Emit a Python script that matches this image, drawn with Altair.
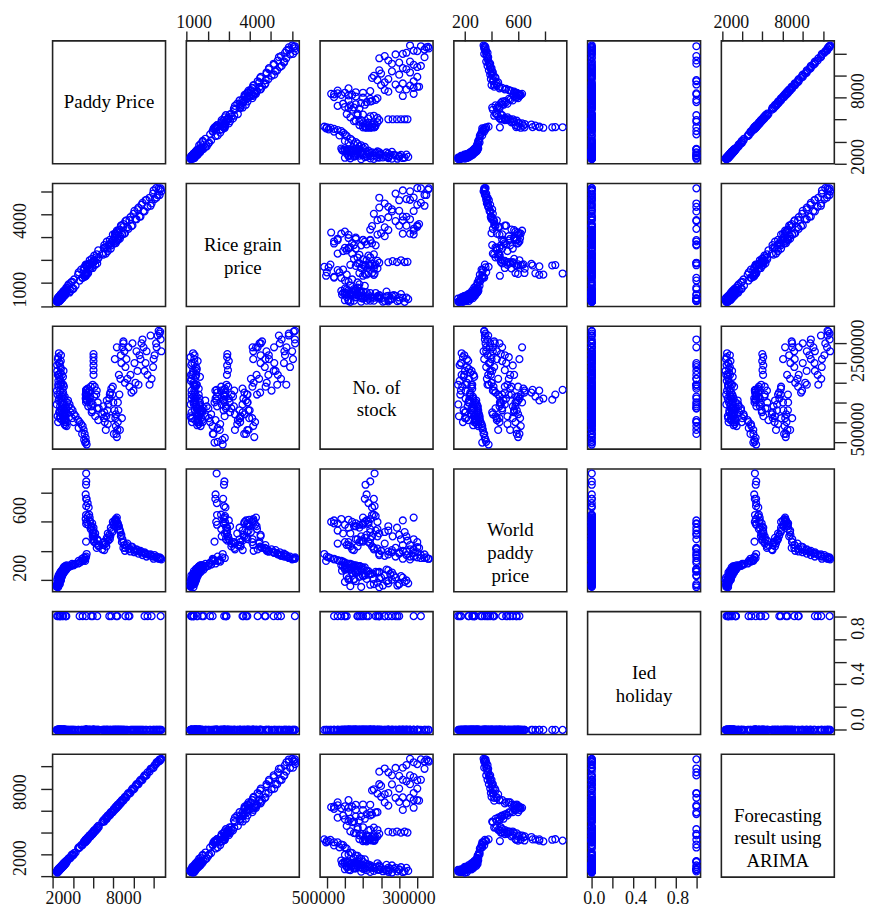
import altair as alt
import pandas as pd

# ---------------- data ----------------
paddy_price = [
    2380, 2450, 2520, 2480, 2420, 2530, 2600, 2580, 2550, 2620,
    2680, 2650, 2700, 2750, 2720, 2690, 2740, 2800, 2780, 2760,
    2820, 2880, 2850, 2900, 2950, 2920, 2980, 3020, 3000, 3050,
    3100, 3080, 3120, 3180, 3150, 3220, 3280, 3250, 3330, 3400,
    3500, 3650, 3800, 3950, 4100, 4250, 4500, 4650, 4800, 4950,
    5050, 5150, 5250, 5300, 5350,
    5290, 5300, 5290, 5310, 5300, 5290, 5300, 5310, 5250, 5350, 5450, 5550,
    5600, 5700, 5650, 5800, 5900, 5950, 6030, 6030, 6030, 6030,
    6030, 6030, 6150, 6300, 6450, 6550, 6900, 7050, 7150, 7300,
    7400, 7500, 7600, 7700, 7800, 7900, 8000, 8100, 8200,
    8250, 8300, 8350, 8400, 8450, 8500, 8600, 8700, 8800, 8900,
    9000, 9100, 9200, 9400, 9600, 9800, 10000, 10200, 10400, 10600,
    10800, 11000, 11200, 11400, 11600, 11800, 11950, 12100, 12250, 12400,
    12500, 12600, 12700, 12770,
    2400, 2430, 2460, 2490, 2510, 2540, 2560, 2590, 2610, 2640,
    2660, 2690, 2710, 2730, 2760, 2790, 2810, 2840, 2870, 2890,
    2920, 2960, 2990, 3010, 3040, 3070, 3090, 3110, 3140, 3170,
    3200, 3240, 3270, 3310, 3360,
    3550, 3750, 3900, 4050, 4550, 4900, 5100, 5200,
    5250, 5350, 5450, 5500, 5650, 5750, 5850, 5950, 6100, 6200,
    6350, 6400, 6500, 7000, 7100, 7250, 7350, 7450, 7650, 7750,
    7950, 8050,
    8150, 8250, 8350, 8450, 8550, 8650, 8750, 8850, 9000, 9150,
    9300, 9500, 9700, 9900, 10100, 10300, 10500, 10700, 10900, 11100,
    11300, 11700, 12000, 12300, 12650,
]

rice_grain_price = [
    1190, 1230, 1320, 1200, 1210, 1180, 1370, 1260, 1390, 1230,
    1380, 1220, 1450, 1320, 1360, 1220, 1440, 1370, 1520, 1300,
    1460, 1320, 1530, 1400, 1480, 1340, 1570, 1480, 1630, 1450,
    1600, 1440, 1670, 1550, 1590, 1500, 1730, 1600, 1800, 1630,
    1880, 1590, 2030, 1740, 2160, 1890, 2370, 2110, 2590, 2230,
    2570, 2270, 2810, 2470, 2710,
    2320, 2780, 2440, 2770, 2360, 2770, 2420, 2790, 2370, 2730, 2430, 2840,
    2630, 2820, 2800, 2870, 2750, 2890, 2910, 2960, 2920, 3000,
    2920, 2930, 2970, 3130, 3040, 3120, 3290, 3540, 3540, 3560,
    3510, 3650, 3690, 3740, 3650, 3860, 3890, 3990, 3970,
    4160, 3820, 4210, 3880, 4250, 3930, 4340, 4050, 4510, 4130,
    4460, 4160, 4710, 4440, 4750, 4490, 5030, 4800, 5220, 4900,
    5420, 5150, 5620, 5330, 5730, 5480, 5910, 5670, 6150, 5850,
    6140, 5850, 6140, 6010,
    1230, 1300, 1180, 1360, 1250, 1190, 1380, 1300, 1230, 1420,
    1350, 1250, 1450, 1380, 1270, 1480, 1420, 1320, 1530, 1450,
    1360, 1570, 1500, 1390, 1610, 1540, 1430, 1650, 1570, 1470,
    1690, 1610, 1510, 1740, 1660,
    1950, 1660, 2060, 1760, 2470, 2240, 2690, 2320,
    2770, 2400, 2820, 2440, 3000, 2640, 3060, 2660, 3200, 2800,
    3260, 2860, 3430, 3240, 3660, 3290, 3810, 3400, 3890, 3510,
    4120, 3730,
    4160, 3750, 4290, 3880, 4320, 3940, 4510, 4110, 4580, 4180,
    4740, 4370, 4880, 4520, 5160, 4790, 5300, 4910, 5510, 5130,
    5640, 5380, 6050, 5740, 6080,
]

no_of_stock = [
    1450000, 1700000, 1950000, 2200000, 2450000, 2650000, 2500000, 2200000, 1900000, 1600000,
    1300000, 1100000, 1250000, 1500000, 1800000, 2100000, 2400000, 2700000, 2550000, 2250000,
    1950000, 1650000, 1350000, 1050000, 1200000, 1450000, 1700000, 1950000, 2150000, 2300000,
    1600000, 1450000, 1300000, 1150000, 1000000, 920000, 1050000, 1200000, 1350000, 1500000,
    1550000, 1450000, 1350000, 1300000, 1200000, 1150000, 1050000, 1000000, 950000, 900000,
    800000, 700000, 600000, 500000, 430000,
    1500000, 1650000, 1750000, 1820000, 1800000, 1570000, 1820000, 1700000, 1600000, 1550000,
    1650000, 1750000,
    1800000, 1650000, 1500000, 1400000, 1300000, 1950000, 2200000, 2320000, 2440000, 2550000,
    2650000, 2730000, 1900000, 1700000, 1500000, 1350000, 1200000, 1100000, 1000000, 1150000,
    1300000, 1450000, 1600000, 1750000, 1850000, 1700000, 1500000, 1300000, 1100000,
    900000, 700000, 620000, 800000, 1000000, 1300000, 1700000, 2100000, 2500000, 2900000,
    3000000, 2800000, 2400000, 2100000, 1900000, 1750000, 1800000, 2000000, 2300000, 2700000,
    3000000, 2900000, 2500000, 2200000, 1950000, 2100000, 2400000, 2700000, 3000000, 3200000,
    3320000, 3250000, 3100000, 2800000,
    1800000, 2300000, 1150000, 2600000, 1000000, 2050000, 1550000, 2750000, 1250000, 2150000,
    1700000, 2500000, 1400000, 1950000, 1100000, 2350000, 1600000, 2000000, 1300000, 2200000,
    1500000, 1850000, 1150000, 1750000, 1350000, 1050000, 1900000, 1250000, 950000, 1650000,
    1100000, 1400000, 1000000, 1250000, 900000,
    1400000, 1250000, 1100000, 1000000, 850000, 700000, 550000, 480000,
    1700000, 1550000, 1850000, 1400000, 1600000, 1900000, 1250000, 1450000, 1650000, 1150000,
    1800000, 1350000, 1050000, 1400000, 1250000, 800000, 1550000, 950000, 1700000, 1100000,
    1900000, 700000,
    2600000, 1200000, 2900000, 1500000, 2200000, 800000, 2700000, 1100000, 3050000, 2000000,
    2600000, 2900000, 2200000, 3000000, 2500000, 2800000, 1950000, 2600000, 3100000, 2300000,
    2800000, 3200000, 2600000, 2900000, 3300000,
]

world_paddy_price = [
    150, 165, 148, 175, 160, 185, 170, 195, 180, 205,
    190, 210, 200, 225, 205, 230, 215, 195, 225, 240,
    210, 235, 250, 225, 245, 260, 240, 255, 270, 250,
    262, 275, 255, 268, 280, 262, 275, 285, 270, 280,
    285, 290, 295, 300, 305, 310, 312, 318, 325, 330,
    335, 340, 350, 360, 378,
    463, 586, 648, 709, 759, 857, 935, 880, 790, 760, 730, 700,
    650, 600, 630, 560, 590, 520, 540, 500, 560, 480,
    530, 470, 500, 450, 470, 430, 410, 440, 460, 430,
    480, 470, 510, 500, 540, 530, 580, 570, 615,
    620, 610, 600, 590, 580, 570, 550, 530, 510, 480,
    460, 440, 420, 450, 415, 430, 410, 400, 405, 395,
    390, 385, 380, 375, 370, 365, 360, 370, 355, 350,
    345, 355, 350, 340,
    170, 200, 155, 215, 185, 160, 230, 175, 205, 190,
    240, 170, 220, 250, 200, 230, 260, 215, 245, 265,
    230, 255, 275, 240, 265, 285, 250, 270, 290, 260,
    280, 295, 270, 290, 300,
    295, 300, 310, 300, 330, 345, 355, 330,
    620, 600, 640, 580, 610, 550, 570, 500, 460, 520,
    420, 480, 440, 460, 405, 450, 490, 520, 480, 560,
    600, 590,
    610, 600, 630, 590, 570, 540, 500, 460, 420, 400,
    440, 410, 395, 425, 390, 410, 380, 400, 370, 390,
    360, 375, 345, 360, 345,
]

ied_holiday = [
    0, 0, 1, 0, 1, 0, 0, 0, 0, 0,
    0, 0, 0, 1, 0, 1, 0, 0, 0, 0,
    0, 0, 0, 0, 0, 1, 0, 1, 0, 0,
    0, 0, 0, 0, 0, 0, 1, 0, 1, 0,
    0, 0, 0, 0, 0, 0, 0, 1, 0, 1,
    0, 0, 0, 0, 0, 0, 1, 0, 0, 0,
    0, 0, 0, 0, 0, 0, 0, 0, 0, 0,
    1, 0, 1, 0, 0, 0, 0, 0, 0, 0,
    0, 0, 0, 0, 0, 0, 0, 0, 0, 1,
    0, 1, 0, 0, 0, 0, 0, 1, 0, 1,
    0, 0, 0, 0, 0, 0, 0, 0, 1, 0,
    1, 0, 0, 0, 0, 0, 0, 0, 0, 1,
    0, 1, 0, 0, 0, 0, 0, 0, 1, 0,
    0, 0, 0, 0, 0, 0, 0, 0, 0, 0,
    0, 1, 0, 0, 0, 0, 0, 0, 0, 0,
    0, 0, 0, 0, 0, 0, 0, 0, 0, 0,
    0, 0, 1, 0, 0,
    0, 0, 0, 0, 0, 0, 0, 0,
    0, 0, 0, 0, 0, 0, 0, 0, 0, 0,
    0, 1, 0, 0, 0, 0, 0, 0, 0, 0,
    0, 0,
    0, 0, 0, 0, 0, 0, 0, 0, 0, 0,
    0, 1, 0, 0, 0, 0, 0, 0, 0, 1,
    0, 0, 0, 0, 0,
]

forecast_arima = [
    2430, 2410, 2600, 2420, 2450, 2460, 2640, 2560, 2610, 2570,
    2730, 2610, 2780, 2690, 2750, 2620, 2780, 2780, 2840, 2710,
    2870, 2840, 2930, 2840, 2980, 2850, 3020, 3000, 3060, 3000,
    3150, 3040, 3200, 3120, 3180, 3150, 3320, 3230, 3390, 3350,
    3550, 3610, 3880, 3890, 4130, 4180, 4540, 4630, 4860, 4900,
    5100, 5110, 5330, 5240, 5380,
    5220, 5340, 5270, 5370, 5250, 5340, 5260, 5390, 5190, 5380, 5380, 5590,
    5650, 5660, 5730, 5740, 5930, 5880, 6070, 6010, 6090, 5980,
    6080, 5990, 6230, 6240, 6480, 6480, 6940, 7030, 7210, 7250,
    7450, 7460, 7680, 7640, 7830, 7830, 8040, 8080, 8260,
    8200, 8350, 8310, 8480, 8390, 8530, 8530, 8740, 8780, 8960,
    8950, 9150, 9160, 9480, 9540, 9830, 9930, 10240, 10380, 10660,
    10750, 11050, 11160, 11480, 11540, 11830, 11880, 12140, 12230, 12460,
    12450, 12650, 12660, 12710,
    2500, 2350, 2580, 2400, 2650, 2470, 2700, 2500, 2720, 2560,
    2790, 2600, 2820, 2640, 2880, 2700, 2920, 2760, 2980, 2790,
    3040, 2860, 3100, 2900, 3160, 2960, 3200, 3000, 3250, 3080,
    3300, 3140, 3360, 3200, 3450,
    3650, 3680, 4000, 3960, 4650, 4820, 5200, 5100,
    5350, 5250, 5560, 5400, 5750, 5650, 5950, 5850, 6200, 6100,
    6450, 6300, 6600, 7100, 7000, 7350, 7250, 7550, 7550, 7850,
    7850, 8150,
    8050, 8350, 8250, 8550, 8450, 8750, 8650, 8950, 8900, 9250,
    9200, 9600, 9600, 10000, 10000, 10400, 10400, 10800, 10800, 11200,
    11200, 11800, 11900, 12400, 12550,
]

var_keys = ["paddy", "rice", "stock", "world", "ied", "forecast"]
diag_labels = [
    "Paddy Price",
    "Rice grain\nprice",
    "No. of\nstock",
    "World\npaddy\nprice",
    "Ied\nholiday",
    "Forecasting\nresult using\nARIMA",
]

tick_values = {
    "paddy": [2000, 4000, 6000, 8000, 10000, 12000],
    "rice": [1000, 2000, 3000, 4000, 5000, 6000],
    "stock": [500000, 1000000, 1500000, 2000000, 2500000, 3000000],
    "world": [200, 400, 600, 800],
    "ied": [0.0, 0.2, 0.4, 0.6, 0.8, 1.0],
    "forecast": [2000, 4000, 6000, 8000, 10000, 12000],
}

x_labels = {
    0: {2000: "2000", 8000: "8000"},
    1: {1000: "1000", 4000: "4000"},
    2: {500000: "500000", 3000000: "300000"},
    3: {200: "200", 600: "600"},
    4: {0.0: "0.0", 0.4: "0.4", 0.8: "0.8"},
    5: {2000: "2000", 8000: "8000"},
}
y_labels = {
    0: {2000: "2000", 8000: "8000"},
    1: {1000: "1000", 4000: "4000"},
    2: {500000: "500000", 2500000: "2500000"},
    3: {200: "200", 600: "600"},
    4: {0.0: "0.0", 0.4: "0.4", 0.8: "0.8"},
    5: {2000: "2000", 8000: "8000"},
}

df = pd.DataFrame({
    "paddy": paddy_price,
    "rice": rice_grain_price,
    "stock": no_of_stock,
    "world": world_paddy_price,
    "ied": ied_holiday,
    "forecast": forecast_arima,
})

domains = {}
for k in var_keys:
    lo, hi = float(df[k].min()), float(df[k].max())
    r = hi - lo
    domains[k] = [lo - 0.04 * r, hi + 0.04 * r]

FONT = "Liberation Serif, Times New Roman, serif"
W, H = 114, 124
BLUE = "#0000ff"


def label_expr(mapping):
    expr = "''"
    for v, t in reversed(list(mapping.items())):
        expr = f"abs(datum.value - ({v})) < 1e-6 ? '{t}' : ({expr})"
    return expr


def x_axis(j, orient, offset):
    return alt.Axis(
        orient=orient, values=tick_values[var_keys[j]], labelExpr=label_expr(x_labels[j]),
        title=None, labelOffset=offset, labelAngle=0, labelAlign="center",
        labelBaseline="top" if orient == "bottom" else "bottom",
        labelPadding=2 if orient == "bottom" else 0,
        tickSize=11 if orient == "bottom" else 10,
        labelOverlap=False, labelFlush=False,
    )


def y_axis(i, orient, offset):
    return alt.Axis(
        orient=orient, values=tick_values[var_keys[i]], labelExpr=label_expr(y_labels[i]),
        title=None, labelOffset=offset, labelAngle=-90, labelAlign="center",
        labelBaseline="bottom" if orient == "left" else "top",
        labelPadding=11 if orient == "left" else 3, tickSize=12,
        labelOverlap=False, labelFlush=False,
    )


x_offsets = {0: 10, 1: 7, 2: -9, 3: 0, 4: 2, 5: 9}
y_offsets = {0: -7, 1: -17, 2: -13, 3: -12, 4: -11, 5: -19}

panels = []
for i in range(6):
    for j in range(6):
        if i == j:
            txt = alt.Chart(pd.DataFrame({"label": [diag_labels[i]]})).mark_text(
                font=FONT, fontSize=19, lineBreak="\n", lineHeight=23,
                align="center", baseline="middle", color="black",
            ).encode(text="label:N", x=alt.value(W / 2), y=alt.value(H / 2)).properties(
                width=W, height=H)
            panels.append(txt)
            continue
        if i == 0 and j in (1, 3, 5):
            xa = x_axis(j, "top", x_offsets[j])
        elif i == 5 and j in (0, 2, 4):
            xa = x_axis(j, "bottom", x_offsets[j])
        else:
            xa = None
        if j == 0 and i in (1, 3, 5):
            ya = y_axis(i, "left", y_offsets[i])
        elif j == 5 and i in (0, 2, 4):
            ya = y_axis(i, "right", y_offsets[i])
        else:
            ya = None
        xk, yk = var_keys[j], var_keys[i]
        xenc = alt.X(f"{xk}:Q", scale=alt.Scale(domain=domains[xk], nice=False, zero=False),
                     axis=xa)
        yenc = alt.Y(f"{yk}:Q", scale=alt.Scale(domain=domains[yk], nice=False, zero=False),
                     axis=ya)
        pts = alt.Chart(df).mark_point(
            filled=False, color=BLUE, size=48, strokeWidth=1.3, opacity=1,
        ).encode(x=xenc, y=yenc).properties(width=W, height=H)
        panels.append(pts)

chart = alt.concat(
    *panels, columns=6, spacing={"row": 20, "column": 21}, bounds="flush"
).properties(
    padding={"left": 3, "top": 0, "right": 0, "bottom": 0}
).configure_view(
    stroke="#222222", strokeWidth=1.6
).configure_axis(
    grid=False, domain=False, tickColor="#222222", tickWidth=1.4,
    labelFont=FONT, labelFontSize=18, labelColor="#111111",
)

chart.save("out.html", embed_options={"renderer": "svg", "actions": False})
